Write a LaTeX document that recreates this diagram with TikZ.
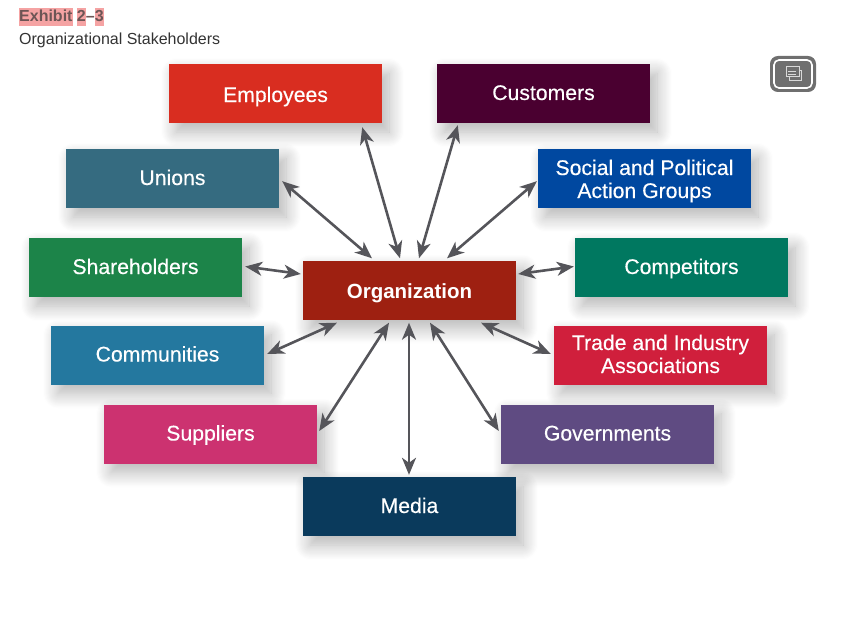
\documentclass[tikz,border=0pt]{standalone}
\usepackage{fontspec}
\setmainfont{Liberation Sans}
\newfontfamily\boxfont[FakeBold=0.3]{Liberation Sans}
\usetikzlibrary{arrows.meta,shadows.blur}
\definecolor{hilite}{HTML}{F5A3A3}
\definecolor{iconGray}{HTML}{6F6F6F}
\definecolor{linkGray}{HTML}{55555A}
\definecolor{inkGray}{HTML}{333333}
\definecolor{employeesRed}{HTML}{D92D20}
\definecolor{customersPlum}{HTML}{4A0030}
\definecolor{unionsSlate}{HTML}{356B80}
\definecolor{socialBlue}{HTML}{0048A0}
\definecolor{holdersGreen}{HTML}{1C8449}
\definecolor{rivalsTeal}{HTML}{007860}
\definecolor{orgRed}{HTML}{9E2011}
\definecolor{commBlue}{HTML}{24789F}
\definecolor{tradeRed}{HTML}{D01F3C}
\definecolor{supplyPink}{HTML}{CC3270}
\definecolor{govPurple}{HTML}{5F4B82}
\definecolor{mediaNavy}{HTML}{0A3A5C}
\tikzset{
    stakebox/.style={fill=#1,text=white,inner sep=0pt,minimum width=213pt,minimum height=59pt,align=center,
        text height=15pt,text depth=2pt,
        font=\boxfont\fontsize{21.2}{23}\selectfont,
        blur shadow={shadow xshift=7pt,shadow yshift=-9pt,shadow blur radius=15pt,shadow blur steps=15,shadow opacity=30}},
    link/.style={<->,linkGray,line width=2.6pt}
}
\begin{document}
\begin{tikzpicture}[x=1pt, y=-1pt, >={Stealth[length=17pt,width=14pt,inset=5pt]}]
    \useasboundingbox (0,0) rectangle (856,623);
    % heading
    \node[anchor=west,inner sep=0pt,text=inkGray!70!hilite,font=\fontsize{16}{18}\bfseries\selectfont] (exhibit) at (19,17.5)
        {\setlength{\fboxsep}{0pt}\colorbox{hilite}{Exhibit\strut} \colorbox{hilite}{2\strut}–\colorbox{hilite}{3\strut}};
    \node[anchor=west,inner sep=0pt,text=inkGray,font=\fontsize{16}{18}\selectfont] (subtitle) at (19,40) {Organizational Stakeholders};
    % comment button
    \draw[fill=iconGray,draw=iconGray,line width=2pt,rounded corners=7pt] (771,57) rectangle (815,91);
    \draw[draw=white,line width=1.6pt,rounded corners=5pt] (774,60) rectangle (812,88);
    \draw[white!85!black,line width=1pt] (789,71) rectangle (801,81);
    \draw[white!85!black,fill=iconGray,line width=1pt] (786,67) rectangle (799,77);
    \draw[white!85!black,line width=0.8pt] (788,71) -- (796,71) (788,74) -- (796,74);
    % boxes
    \node[stakebox=employeesRed] (employees) at (275.5,93.5) {\raisebox{-2pt}{Employees}};
    \node[stakebox=customersPlum] (customers) at (543.5,93.5) {Customers};
    \node[stakebox=unionsSlate] (unions) at (172.5,178.5) {Unions};
    \node[stakebox=socialBlue,text height=41pt] (social) at (644.5,178.5) {Social and Political\\Action Groups};
    \node[stakebox=holdersGreen] (shareholders) at (135.5,267.5) {Shareholders};
    \node[stakebox=rivalsTeal] (competitors) at (681.5,267.5) {Competitors};
    \node[stakebox=orgRed,font=\fontsize{20.5}{24}\bfseries\selectfont] (org) at (409.5,290) {\raisebox{-1.5pt}{Organization}};
    \node[stakebox=commBlue] (communities) at (157.5,355) {Communities};
    \node[stakebox=tradeRed,text height=38pt] (trade) at (660.5,355) {Trade and Industry\\Associations};
    \node[stakebox=supplyPink] (suppliers) at (210.5,434) {Suppliers};
    \node[stakebox=govPurple] (governments) at (607.5,434) {Governments};
    \node[stakebox=mediaNavy] (media) at (409.5,506.5) {Media};
    % arrows
    \draw[link] ([shift={(-20,4)}]employees.south east) -- ([shift={(-9.5,-2)}]org.north);
    \draw[link] ([shift={(21,2)}]customers.south west) -- ([shift={(9.5,-2)}]org.north);
    \draw[link] ([shift={(3,-27)}]unions.south east) -- ([shift={(-37.5,-2)}]org.north);
    \draw[link] ([shift={(-1,-27)}]social.south west) -- ([shift={(37.5,-2)}]org.north);
    \draw[link] ([shift={(3,-1)}]shareholders.east) -- ([shift={(-2,-16)}]org.west);
    \draw[link] ([shift={(-1,-1)}]competitors.west) -- ([shift={(2,-16)}]org.east);
    \draw[link] ([shift={(3,-1)}]communities.east) -- ([shift={(-72.5,3)}]org.south);
    \draw[link] ([shift={(-3,-1)}]trade.west) -- ([shift={(71.5,3)}]org.south);
    \draw[link] ([shift={(2,-3)}]suppliers.east) -- ([shift={(-20.5,3)}]org.south);
    \draw[link] ([shift={(-2,-3)}]governments.west) -- ([shift={(20.5,3)}]org.south);
    \draw[link] ([shift={(-0.5,-2)}]media.north) -- ([shift={(-0.5,3)}]org.south);
\end{tikzpicture}
\end{document}
